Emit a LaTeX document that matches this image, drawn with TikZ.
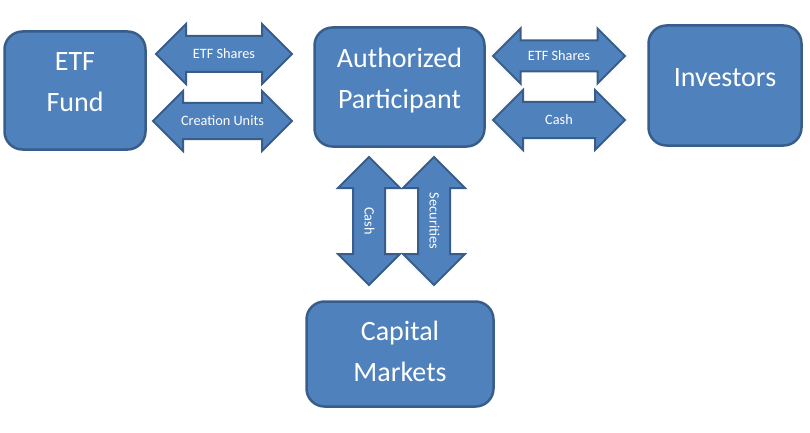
\documentclass[tikz,border=0pt]{standalone}
\usepackage{fontspec}
\setmainfont{Carlito}
\usetikzlibrary{shapes.arrows}
\definecolor{boxfill}{HTML}{4F81BD}
\definecolor{boxline}{HTML}{385D8A}
\tikzset{
  block/.style={draw=boxline, fill=boxfill, line width=2.5pt, rounded corners=18pt},
  boxtext/.style={text=white, align=center, text depth=0pt,
    font=\fontsize{28}{41}\selectfont},
  fatarrow/.style={double arrow, draw=boxline, fill=boxfill, line width=2pt,
    text=white, font=\fontsize{14.3}{16}\selectfont,
    double arrow head extend=12pt, text height=9pt, text depth=0pt,
    inner ysep=12.5pt, inner xsep=2pt}
}
\begin{document}
\begin{tikzpicture}[x=1pt, y=-1pt]
  \useasboundingbox (0,0) rectangle (810,433);
  % boxes
  \node[block, minimum width=141pt, minimum height=118pt,
    label={[boxtext, yshift=8pt]center:ETF\\Fund}] (fund) at (75,90.5) {};
  \node[block, minimum width=170pt, minimum height=119pt,
    label={[boxtext, yshift=8.5pt]center:Authorized\\Participant}] (ap) at (399.5,87) {};
  \node[block, minimum width=153pt, minimum height=120pt,
    label={[boxtext, yshift=7.5pt]center:Investors}] (inv) at (725,85.5) {};
  \node[block, minimum width=187pt, minimum height=105pt,
    label={[boxtext, yshift=3pt]center:Capital\\Markets}] (cm) at (400,354) {};
  % flows
  \node[fatarrow, minimum height=136pt] (shares1) at (224,54) {ETF Shares};
  \node[fatarrow, minimum height=139pt] (units) at (222.5,121) {Creation Units};
  \node[fatarrow, minimum height=132pt, inner ysep=10pt] (shares2) at (559,56) {ETF Shares};
  \node[fatarrow, minimum height=132pt] (cash1) at (559,120) {Cash};
  \node[fatarrow, minimum height=128pt, inner ysep=10.5pt, double arrow head extend=15pt,
    rotate=-90] (cash2) at (369,221) {Cash};
  \node[fatarrow, minimum height=128pt, inner ysep=10.5pt, double arrow head extend=15pt,
    rotate=-90] (sec) at (434,221) {Securities};
\end{tikzpicture}
\end{document}
